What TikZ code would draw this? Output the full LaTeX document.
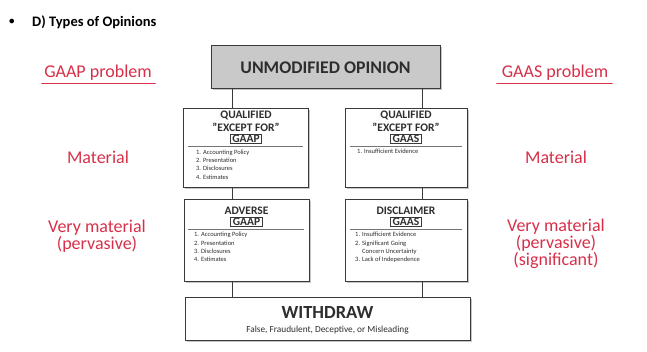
\documentclass[tikz,border=0pt]{standalone}
\usepackage{fontspec}
\setmainfont{Carlito}
\usetikzlibrary{shadows}
\definecolor{redhand}{HTML}{D8304A}
\definecolor{boxline}{HTML}{3A3A3A}
\definecolor{txt}{HTML}{2E2E2E}
\definecolor{umfill}{HTML}{C9C9C9}
\tikzset{
  opbox/.style={draw=boxline, line width=0.9pt, fill=white, inner sep=0pt,
    drop shadow={opacity=0.45, shadow xshift=1.8pt, shadow yshift=-2.2pt}},
  head/.style={font=\bfseries\fontsize{11.5}{12}\selectfont, text=txt, inner sep=0pt},
  tag/.style={draw=boxline, line width=0.8pt, font=\bfseries\fontsize{11.5}{12}\selectfont, text=txt, inner xsep=2pt, inner ysep=0.8pt},
  items/.style={font=\fontsize{6.5}{8.3}\selectfont, text=txt, align=left, anchor=north west, inner sep=0pt},
  sep/.style={draw=boxline!70, line width=0.6pt},
  conn/.style={draw=boxline, line width=0.8pt},
  hand/.style={text=redhand, font=\fontsize{18}{17}\selectfont, align=center, inner sep=0pt},
}
\begin{document}
\begin{tikzpicture}[x=1pt,y=-1pt]
\useasboundingbox (0,0) rectangle (647,351);
\fill[white] (0,0) rectangle (647,351);
% title
\node[inner sep=0pt] (bullet) at (12,22) {\fontsize{13}{13}\selectfont$\bullet$};
\node[anchor=west, inner sep=0pt, font=\bfseries\fontsize{14.5}{16}\selectfont] (title) at (32,22) {D) Types of Opinions};
% boxes
\node[opbox, fill=umfill, minimum width=229pt, minimum height=43pt] (UM) at (325.5,66.5) {};
\node[inner sep=0pt, text=txt, font=\bfseries\fontsize{17.8}{18}\selectfont] (UMt) at (325.5,67.5) {UNMODIFIED OPINION};
\node[opbox, minimum width=125pt, minimum height=79pt] (QG) at (246,147.5) {};
\node[opbox, minimum width=122pt, minimum height=79pt] (QS) at (406,147.5) {};
\node[opbox, minimum width=125pt, minimum height=82pt] (AD) at (246.5,240) {};
\node[opbox, minimum width=122pt, minimum height=82pt] (DS) at (406,240) {};
\node[opbox, minimum width=285pt, minimum height=43pt] (WD) at (327.5,318.5) {};
% connectors
\coordinate (lx) at (232,0);
\coordinate (rx) at (422,0);
\draw[conn] (UM.south -| lx) -- (QG.north -| lx);
\draw[conn] (QG.south -| lx) -- (AD.north -| lx);
\draw[conn] (AD.south -| lx) -- (WD.north -| lx);
\draw[conn] (UM.south -| rx) -- (QS.north -| rx);
\draw[conn] (QS.south -| rx) -- (DS.north -| rx);
\draw[conn] (DS.south -| rx) -- (WD.north -| rx);
% qualified GAAP
\node[head] (QGh1) at (246,115.5) {QUALIFIED};
\node[head] (QGh2) at (246,127.5) {\symbol{"22}EXCEPT FOR\symbol{"22}};
\node[tag] (QGt) at (246,139) {GAAP};
\draw[sep] (188,146.5) -- (303,146.5);
\node[items] (QGl) at (196,149.5) {1. Accounting Policy\\2. Presentation\\3. Disclosures\\4. Estimates};
% qualified GAAS
\node[head] (QSh1) at (406,115.5) {QUALIFIED};
\node[head] (QSh2) at (406,127.5) {\symbol{"22}EXCEPT FOR\symbol{"22}};
\node[tag] (QSt) at (406,139) {GAAS};
\draw[sep] (350,146.5) -- (462,146.5);
\node[items] (QSl) at (357,149) {1. Insufficient Evidence};
% adverse
\node[head] (ADh) at (246.5,210.5) {ADVERSE};
\node[tag] (ADt) at (246.5,222) {GAAP};
\draw[sep] (188,229.5) -- (304,229.5);
\node[items] (ADl) at (194,232) {1. Accounting Policy\\2. Presentation\\3. Disclosures\\4. Estimates};
% disclaimer
\node[head] (DSh) at (406,210.5) {DISCLAIMER};
\node[tag] (DSt) at (406,222) {GAAS};
\draw[sep] (350,229.5) -- (462,229.5);
\node[items] (DSl) at (355,232) {1. Insufficient Evidence\\2. Significant Going\\\hspace*{7pt}Concern Uncertainty\\3. Lack of Independence};
% withdraw
\node[inner sep=0pt, text=txt, font=\bfseries\fontsize{18.5}{20}\selectfont] (WDt) at (327.5,312.5) {WITHDRAW};
\node[inner sep=0pt, text=txt, font=\fontsize{9.3}{10}\selectfont] (WDs) at (327.5,330) {False, Fraudulent, Deceptive, or Misleading};
% red annotations
\node[hand] (gaap) at (98,73) {GAAP problem};
\draw[redhand, line width=1.8pt, line cap=round] (42,83.5) -- (155,83.5);
\node[hand] (gaas) at (555,73) {GAAS problem};
\draw[redhand, line width=1.8pt, line cap=round] (497,83.5) -- (612,83.5);
\node[hand] (matl) at (98,157) {Material};
\node[hand] (matr) at (556,157) {Material};
\node[hand] (vml) at (97,236) {Very material\\(pervasive)};
\node[hand] (vmr) at (556,244) {Very material\\(pervasive)\\(significant)};
\end{tikzpicture}
\end{document}
